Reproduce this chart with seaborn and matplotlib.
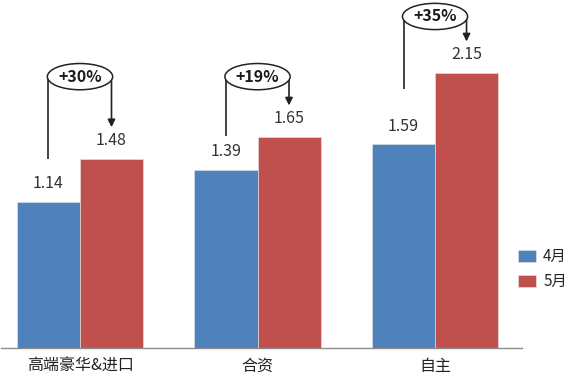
import matplotlib
matplotlib.use("Agg")
import matplotlib.pyplot as plt
import seaborn as sns
import pandas as pd

categories = ["高端豪华&进口", "合资", "自主"]
months = ["4月", "5月"]
april = [1.14, 1.39, 1.59]
may = [1.48, 1.65, 2.15]
growth_labels = ["+30%", "+19%", "+35%"]

# annotation layout (data units)
bracket_y = [2.12, 2.12, 2.59]
start_offset = [0.34, 0.27, 0.43]
tip_offset = 0.245

colors = ["#4F81BD", "#C0504D"]

sns.set_theme(style="white")
plt.rcParams["font.family"] = ["Noto Sans CJK SC", "DejaVu Sans"]

df = pd.DataFrame({
    "cat": categories * 2,
    "month": [months[0]] * 3 + [months[1]] * 3,
    "value": april + may,
})

fig = plt.figure(figsize=(5.8, 3.84), dpi=100)
ax = fig.add_axes([1 / 580, 36 / 384, 521 / 580, 348 / 384])
sns.barplot(data=df, x="cat", y="value", hue="month", palette=colors,
            width=0.71, saturation=1, ax=ax, edgecolor="#e8e8e8", linewidth=0.4,
            errorbar=None)

ax.set_xlim(-0.445, 2.49)
ax.set_ylim(0, 348 / 128)
ax.set_xlabel("")
ax.set_ylabel("")
ax.set_yticks([])
for s in ["top", "right", "left"]:
    ax.spines[s].set_visible(False)
ax.spines["bottom"].set_color("#8c8c8c")
ax.spines["bottom"].set_linewidth(1.0)
ax.tick_params(axis="x", length=0, pad=7, labelsize=11.5, colors="#222222")

for cont in ax.containers:
    ax.bar_label(cont, labels=[f"{v:.2f}" for v in cont.datavalues],
                 padding=7, fontsize=11.5, color="#333333")

blue_bars = ax.containers[0].patches
red_bars = ax.containers[1].patches
lc = "#222222"
for i in range(len(categories)):
    xb = blue_bars[i].get_x() + blue_bars[i].get_width() / 2
    xr = red_bars[i].get_x() + red_bars[i].get_width() / 2
    yh = bracket_y[i]
    y0 = april[i] + start_offset[i]
    ytip = may[i] + tip_offset
    ax.plot([xb, xb, xr, xr], [y0, yh, yh, yh], color=lc, lw=1.2,
            solid_capstyle="butt", zorder=3)
    ax.annotate("", xy=(xr, ytip), xytext=(xr, yh),
                arrowprops=dict(arrowstyle="-|>", color=lc, lw=1.2,
                                mutation_scale=11, shrinkA=0, shrinkB=0),
                zorder=3)
    ax.text((xb + xr) / 2, yh, growth_labels[i], ha="center", va="center",
            fontsize=11.5, fontweight="semibold", color="#1a1a1a", zorder=4,
            bbox=dict(boxstyle="ellipse,pad=0.08", fc="white", ec=lc, lw=1.1))

handles, labels = ax.get_legend_handles_labels()
ax.legend(handles, labels, loc="upper left", bbox_to_anchor=(518 / 580, 1 - 248 / 384),
          bbox_transform=fig.transFigure, frameon=False, fontsize=11,
          handlelength=1.2, handleheight=0.85, handletextpad=0.45,
          labelspacing=0.55, borderpad=0, borderaxespad=0)

fig.savefig("out.png", dpi=100)
